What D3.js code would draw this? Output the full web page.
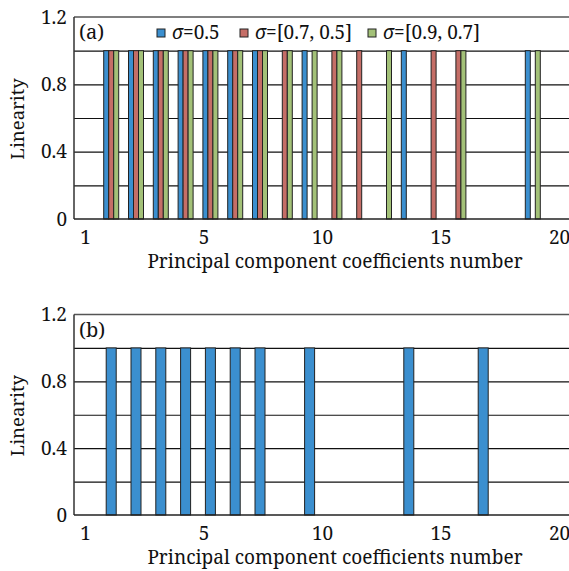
<!DOCTYPE html>
<html>
<head>
<meta charset="utf-8">
<script src="https://cdn.jsdelivr.net/npm/d3@7"></script>
<style>
  body { margin: 0; background: #fff; }
</style>
</head>
<body>
<svg id="chart" width="569" height="571"></svg>
<script>
// categories on the band axis
const categories = ["1","2","3","4","5","6","7","8","9","10","11","12","13","14","15","16","17","18","19","20"];
// labels shown under the axis (spaced evenly, as in the figure)
const xTickLabels = ["1", "5", "10", "15", "20"];
const yTicks = [0, 0.4, 0.8, 1.2];
const yGrid = [0.2, 0.4, 0.6, 0.8, 1.0];

// panel (a)
const seriesNames = ["σ=0.5", "σ=[0.7, 0.5]", "σ=[0.9, 0.7]"];
const sigma05   = [0,1,1,1,1,1,1,1,0,1,0,0,0,1,0,0,0,0,1,0];
const sigma0705 = [0,1,1,1,1,1,1,1,1,0,1,1,0,0,1,1,0,0,0,0];
const sigma0907 = [0,1,1,1,1,1,1,1,1,1,1,0,1,0,0,1,0,0,1,0];
// panel (b)
const panelB    = [0,1,1,1,1,1,1,1,0,1,0,0,0,1,0,0,1,0,0,0];

const colors = ["#3b8fcf", "#c56e67", "#a3c178"];
const FONT = '"Noto Serif"';

const svg = d3.select("#chart");
const left = 74, right = 570;

let x = d3.scaleBand().domain(categories).range([left, right]).padding(0);
let labelScale = d3.scalePoint().domain(xTickLabels).range([85, 559]);

function styleText(sel, size) {
  sel.attr("font-family", null)
    .style("font-family", FONT)
    .attr("font-size", size)
    .attr("fill", "#111");
}

function panel(top, bottom, tag) {
  let g = svg.append("g");
  let y = d3.scaleLinear().domain([0, 1.2]).range([bottom, top]);

  // gridlines
  g.append("g")
    .attr("transform", `translate(${left},0)`)
    .call(d3.axisLeft(y).tickValues(yGrid).tickSize(-(right - left)).tickFormat(""))
    .call(a => a.select(".domain").remove())
    .call(a => a.selectAll("line").attr("stroke", "#111").attr("stroke-width", 1.2));

  // top border
  g.append("line")
    .attr("x1", left).attr("x2", right)
    .attr("y1", y(1.2)).attr("y2", y(1.2))
    .attr("stroke", "#555").attr("stroke-width", 1.5);

  // y tick labels
  g.append("g")
    .attr("transform", `translate(${left},0)`)
    .call(d3.axisLeft(y).tickValues(yTicks).tickSize(0).tickPadding(7)
      .tickFormat(d => d === 0 ? "0" : d3.format(".1f")(d)))
    .call(a => a.select(".domain").remove())
    .call(a => a.attr("font-family", null))
    .call(a => styleText(a.selectAll("text"), 19));

  // x tick labels
  g.append("g")
    .attr("transform", `translate(0,${bottom})`)
    .call(d3.axisBottom(labelScale).tickSize(0).tickPadding(12))
    .call(a => a.select(".domain").remove())
    .call(a => a.attr("font-family", null))
    .call(a => styleText(a.selectAll("text"), 19));

  // x title
  g.append("text")
    .attr("x", 335).attr("y", bottom + 49)
    .attr("text-anchor", "middle")
    .call(t => styleText(t, 19))
    .text("Principal component coefficients number");

  // y title
  g.append("text")
    .attr("transform", `translate(24,${(top + bottom) / 2 + 1}) rotate(-90)`)
    .attr("text-anchor", "middle")
    .call(t => styleText(t, 18.5))
    .text("Linearity");

  // panel tag
  g.append("text")
    .attr("x", 79).attr("y", top + 22)
    .call(t => styleText(t, 20))
    .text(tag);

  return { g, y };
}

// ---- panel (a)
let a = panel(17, 219, "(a)");
let sub = d3.scaleBand().domain(seriesNames).range([0, 15]);
let offset = (x.bandwidth() - 15) / 2;
[sigma05, sigma0705, sigma0907].forEach((vals, i) => {
  a.g.append("g").selectAll("rect")
    .data(vals.map((v, j) => ({ cat: categories[j], v })).filter(d => d.v > 0))
    .join("rect")
    .attr("x", d => x(d.cat) + offset + sub(seriesNames[i]))
    .attr("y", d => a.y(d.v))
    .attr("width", sub.bandwidth())
    .attr("height", d => a.y(0) - a.y(d.v))
    .attr("fill", colors[i])
    .attr("stroke", "#222")
    .attr("stroke-width", 1);
});

// axes lines for (a)
a.g.append("line").attr("x1", left).attr("x2", left).attr("y1", 17).attr("y2", 219)
  .attr("stroke", "#333").attr("stroke-width", 1.5);
a.g.append("line").attr("x1", left).attr("x2", right).attr("y1", 219).attr("y2", 219)
  .attr("stroke", "#222").attr("stroke-width", 1.5);

// legend
let legX = [157, 240, 368];
seriesNames.forEach((name, i) => {
  let lg = a.g.append("g").attr("transform", `translate(${legX[i]},29)`);
  lg.append("rect").attr("width", 8).attr("height", 8)
    .attr("fill", colors[i]).attr("stroke", "#222").attr("stroke-width", 1);
  let t = lg.append("text").attr("x", 15).attr("y", 10).call(t => styleText(t, 19));
  t.append("tspan").attr("font-style", "italic").text("σ");
  t.append("tspan").text(name.slice(1));
});

// ---- panel (b)
let b = panel(314.5, 515, "(b)");
let bw = 10;
b.g.append("g").selectAll("rect")
  .data(panelB.map((v, j) => ({ cat: categories[j], v })).filter(d => d.v > 0))
  .join("rect")
  .attr("x", d => x(d.cat) + (x.bandwidth() - bw) / 2)
  .attr("y", d => b.y(d.v))
  .attr("width", bw)
  .attr("height", d => b.y(0) - b.y(d.v))
  .attr("fill", colors[0])
  .attr("stroke", "#222")
  .attr("stroke-width", 1);

b.g.append("line").attr("x1", left).attr("x2", left).attr("y1", 314.5).attr("y2", 515)
  .attr("stroke", "#333").attr("stroke-width", 1.5);
b.g.append("line").attr("x1", left).attr("x2", right).attr("y1", 515).attr("y2", 515)
  .attr("stroke", "#222").attr("stroke-width", 1.5);
</script>
</body>
</html>
